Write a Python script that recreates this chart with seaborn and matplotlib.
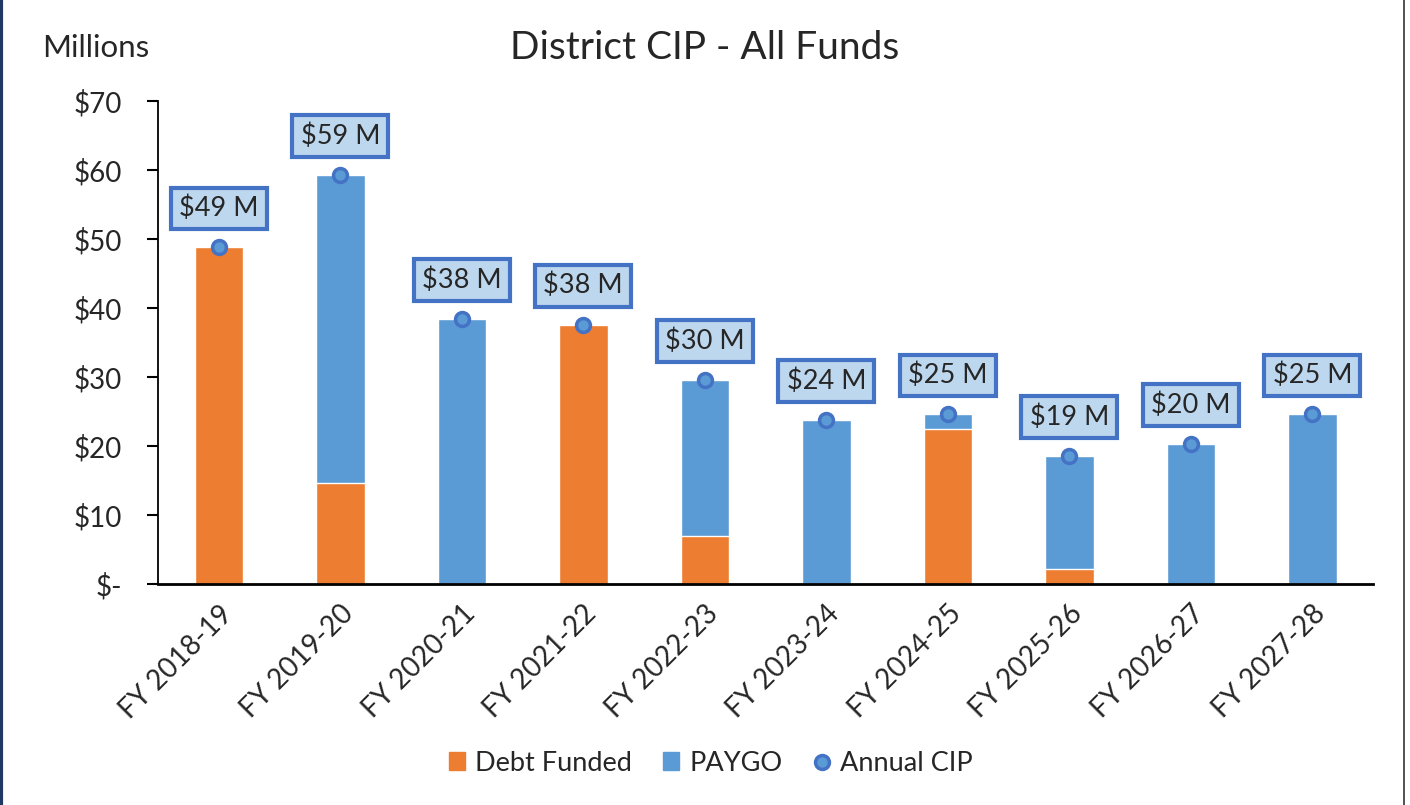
import numpy as np
import pandas as pd
import matplotlib
matplotlib.use("Agg")
import matplotlib.pyplot as plt
from matplotlib.patches import Patch
from matplotlib.lines import Line2D
import seaborn as sns

# data (millions)
years = ["FY 2018-19", "FY 2019-20", "FY 2020-21", "FY 2021-22", "FY 2022-23",
         "FY 2023-24", "FY 2024-25", "FY 2025-26", "FY 2026-27", "FY 2027-28"]
debt = [48.8, 14.6, 0, 37.6, 7.0, 0, 22.5, 2.2, 0, 0]
paygo = [0, 44.7, 38.4, 0, 22.6, 23.8, 2.1, 16.4, 20.3, 24.6]
yticks = [0, 10, 20, 30, 40, 50, 60, 70]

total = [d + p for d, p in zip(debt, paygo)]
df = pd.DataFrame({"year": years, "debt": debt, "paygo": paygo, "total": total})

orange = "#ED7D31"
blue = "#5B9BD5"
dark_blue = "#4472C4"
light_blue = "#BDD7EE"

sns.set_style("white")
plt.rcParams["font.family"] = ["Lato", "DejaVu Sans"]

fig = plt.figure(figsize=(14.1, 8.05), dpi=100)
ax = fig.add_axes([0.1121, 0.2745, 0.8617, 0.6])

# stacked look: total in blue, debt drawn over it from zero
sns.barplot(data=df, x="year", y="total", color=blue, width=0.4,
            saturation=1, ax=ax)
sns.barplot(data=df, x="year", y="debt", color=orange, width=0.4,
            saturation=1, ax=ax)

xs = np.arange(len(years))
ax.plot(xs, total, ls="none", marker="o", ms=10, mfc=blue, mec=dark_blue,
        mew=2.5, zorder=5)

for x, t in zip(xs, total):
    ax.annotate(f"${round(t):d} M", (x, t), xytext=(0, 28), textcoords="offset points",
                ha="center", va="center", fontsize=19.5, zorder=6,
                bbox=dict(boxstyle="square,pad=0.3", fc=light_blue, ec=dark_blue, lw=3))

ax.set_ylim(0, 70)
ax.set_xlim(-0.5, 9.5)
ax.set_yticks(yticks)
ax.set_yticklabels([f"${v}" if v else "$-" for v in yticks], fontsize=20)
ax.set_xticks(xs)
ax.set_xticklabels(years, rotation=45, ha="right", rotation_mode="anchor", fontsize=20)
ax.set_xlabel("")
ax.set_ylabel("")
ax.tick_params(axis="y", direction="out", length=8, width=1.5, color="black", pad=18, left=True)
ax.tick_params(axis="x", length=0, pad=12)
sns.despine(ax=ax, top=True, right=True)
ax.spines["left"].set_color("black")
ax.spines["left"].set_linewidth(1.3)
ax.spines["bottom"].set_color("black")
ax.spines["bottom"].set_linewidth(2)

fig.text(0.5, 0.94, "District CIP - All Funds", ha="center", va="center", fontsize=28)
fig.text(0.03, 0.94, "Millions", ha="left", va="center", fontsize=22.5)

handles = [Patch(color=orange, label="Debt Funded"),
           Patch(color=blue, label="PAYGO"),
           Line2D([], [], ls="none", marker="o", ms=10, mfc=blue, mec=dark_blue,
                  mew=2.5, label="Annual CIP")]
fig.legend(handles=handles, loc="center", bbox_to_anchor=(0.504, 0.052), ncol=3,
           frameon=False, fontsize=19.5, handlelength=0.6, handleheight=0.6,
           handletextpad=0.37, columnspacing=1.15)

# outer frame lines
fig.add_artist(Line2D([0.001, 0.001], [0, 1], transform=fig.transFigure,
                      color="#1F3864", lw=3))
fig.add_artist(Line2D([0.9955, 0.9955], [0, 1], transform=fig.transFigure,
                      color="#333333", lw=1.2))

fig.savefig("out.png", dpi=100)
